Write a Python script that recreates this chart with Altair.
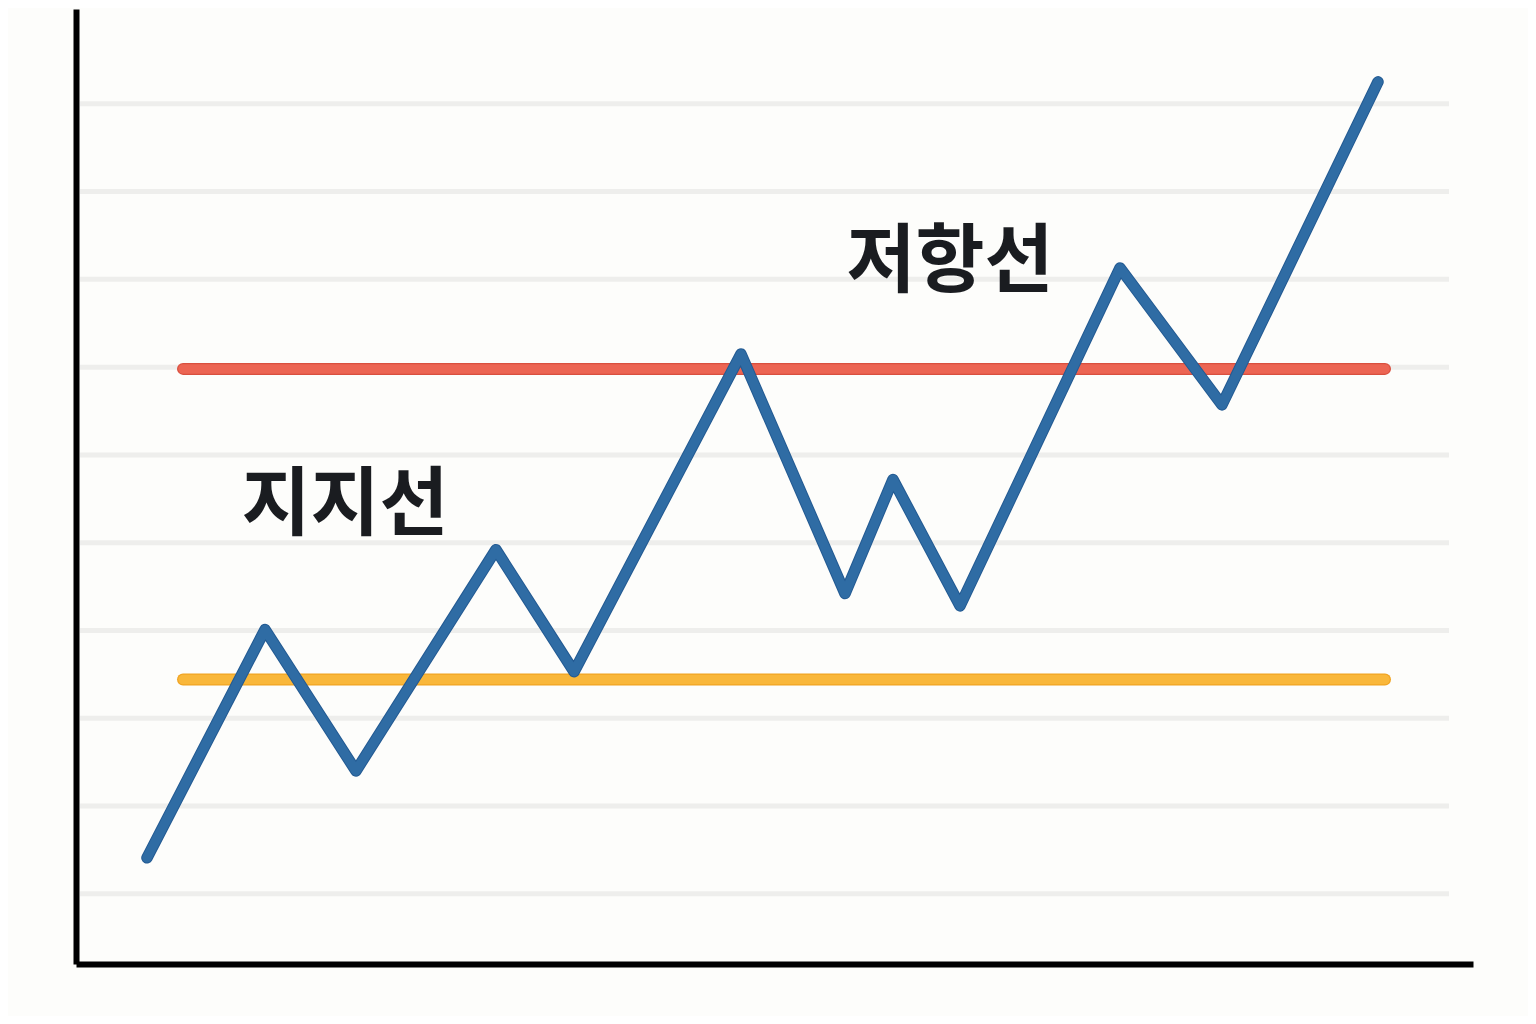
import altair as alt
import pandas as pd

# price path (x position in % of axis width, y in gridline steps)
price_x = [5.08, 13.53, 20.04, 30.06, 35.65, 47.60, 55.05, 58.48, 63.28, 74.73, 82.03, 93.20]
price_y = [0.41, 3.01, 1.40, 3.92, 2.53, 6.15, 3.42, 4.72, 3.28, 7.13, 5.57, 9.25]

grid_values = [0, 1, 2, 3, 4, 5, 6, 7, 8, 9]
grid_x_start, grid_x_end = 0.29, 98.28

resistance_level = 5.98
support_level = 2.44
level_x_start, level_x_end = 7.66, 93.7

label_text = ["저항선", "지지선"]
label_x = [62.56, 19.26]
label_y = [7.19, 4.42]

x_scale = alt.Scale(domain=[0, 100], nice=False, zero=False)
y_scale = alt.Scale(domain=[-0.8, 10.08], nice=False, zero=False)

axis_x = alt.Axis(labels=False, ticks=False, grid=False, title=None,
                  domain=True, domainColor="#000000", domainWidth=6)
axis_y = alt.Axis(labels=False, ticks=False, grid=False, title=None,
                  domain=True, domainColor="#000000", domainWidth=6)

grid_df = pd.DataFrame({"y": grid_values, "x": grid_x_start, "x2": grid_x_end})
grid = alt.Chart(grid_df).mark_rule(color="#eeeeec", strokeWidth=5).encode(
    x=alt.X("x:Q", scale=x_scale, axis=axis_x),
    x2="x2:Q",
    y=alt.Y("y:Q", scale=y_scale, axis=axis_y),
)

levels_df = pd.DataFrame({
    "x": [level_x_start, level_x_end, level_x_start, level_x_end],
    "y": [resistance_level, resistance_level, support_level, support_level],
    "k": ["res", "res", "sup", "sup"],
})

def level_layer(kind, color, width):
    return alt.Chart(levels_df[levels_df.k == kind]).mark_line(
        color=color, strokeWidth=width, strokeCap="round"
    ).encode(x=alt.X("x:Q", scale=x_scale), y=alt.Y("y:Q", scale=y_scale))

res_outer = level_layer("res", "#d9503f", 12)
res_inner = level_layer("res", "#ec6553", 9.5)
sup_outer = level_layer("sup", "#f0a423", 12)
sup_inner = level_layer("sup", "#f9b73a", 9.5)

price_df = pd.DataFrame({"x": price_x, "y": price_y, "o": list(range(len(price_x)))})

def price_layer(color, width):
    return alt.Chart(price_df).mark_line(
        color=color, strokeWidth=width, strokeCap="round", strokeJoin="round"
    ).encode(
        x=alt.X("x:Q", scale=x_scale),
        y=alt.Y("y:Q", scale=y_scale),
        order="o:O",
    )

price_outer = price_layer("#235a92", 11.5)
price_inner = price_layer("#2f6ca4", 9.5)

labels_df = pd.DataFrame({"t": label_text, "x": label_x, "y": label_y})
labels = alt.Chart(labels_df).mark_text(
    font="Noto Sans CJK KR", fontWeight="bold", fontSize=75,
    color="#1a1c20", align="center", baseline="middle"
).encode(
    x=alt.X("x:Q", scale=x_scale),
    y=alt.Y("y:Q", scale=y_scale),
    text="t:N",
)

chart = alt.layer(grid, res_outer, res_inner, sup_outer, sup_inner,
                  price_outer, price_inner, labels).properties(
    width=1397, height=955,
    autosize=alt.AutoSizeParams(type="none"),
    padding={"left": 68, "top": 1, "right": 55, "bottom": 52},
    background="#fdfdfb",
).configure_view(stroke=None)

chart.save("out.html", embed_options={"renderer": "svg", "actions": False})
